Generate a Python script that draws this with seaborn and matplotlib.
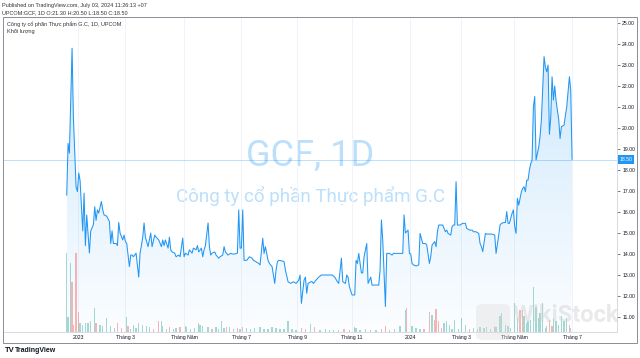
import numpy as np
import pandas as pd
import matplotlib
matplotlib.use("Agg")
import matplotlib.pyplot as plt
import matplotlib.transforms as mtransforms
from matplotlib.patches import Rectangle, FancyBboxPatch
import seaborn as sns

# ---------------- data (trading-day index, close price) ----------------
day = [0, 1, 2, 4, 5, 7, 8, 9, 10, 12, 13, 14, 15, 17, 18, 20, 21, 22, 23, 24,
       26, 27, 28, 30, 32, 33, 34, 35, 37, 38, 39, 40, 42, 43, 44, 45, 47, 48, 49, 50,
       52, 54, 55, 56, 57, 58, 59, 61, 62, 63, 64, 66, 67, 69, 71, 72, 73, 74, 76, 77,
       78, 79, 81, 82, 84, 85, 87, 88, 89, 91, 92, 94, 95, 97, 98, 99, 101, 102, 103, 104,
       106, 107, 108, 109, 111, 112, 114, 115, 117, 118, 119, 121, 123, 124, 126, 128, 129, 130, 131, 132,
       133, 135, 137, 139, 140, 142, 144, 145, 147, 148, 149, 151, 152, 154, 156, 157, 158, 159, 161, 163,
       164, 166, 168, 170, 172, 174, 175, 176, 178, 179, 180, 181, 183, 184, 185, 187, 189, 191, 194, 196,
       199, 201, 203, 204, 206, 207, 209, 210, 211, 212, 214, 216, 217, 218, 219, 221, 222, 223, 225, 226,
       228, 229, 231, 234, 235, 236, 237, 239, 240, 242, 244, 245, 246, 250, 252, 253, 254, 256, 257, 258,
       259, 260, 262, 264, 265, 267, 269, 270, 272, 273, 274, 276, 277, 278, 279, 281, 282, 284, 285, 286,
       288, 289, 290, 291, 292, 293, 295, 297, 299, 300, 302, 304, 305, 307, 309, 310, 311, 312, 314, 315,
       317, 319, 321, 322, 324, 325, 326, 328, 329, 330, 331, 332, 334, 335, 336, 337, 338, 339, 341, 342,
       343, 344, 345, 346, 347, 348, 349, 350, 351, 352, 354, 355, 356, 358, 359, 360, 361, 362, 363, 364,
       365, 366, 367, 369, 370, 371, 373, 374, 375, 377, 378, 379]
close = [16.8, 19.27, 18.8, 23.8, 20.5, 17.2, 16.97, 17.86, 17.5, 15.1, 16.9, 14.4, 15.86, 14.05, 15.1, 15.4, 16.25, 15.6, 16.1, 15.95,
         16.5, 16.1, 15.86, 15.8, 15.55, 14.5, 15.1, 14.5, 14.5, 14.4, 15.5, 15.0, 14.67, 14.9, 14.6, 14.5, 13.4, 13.95, 13.95, 13.87,
         14.04, 12.9, 14.04, 14.4, 14.8, 15.48, 14.8, 14.35, 14.67, 15.0, 14.35, 14.9, 14.8, 14.67, 14.35, 14.67, 14.4, 14.67, 14.28, 14.8,
         14.2, 14.1, 14.04, 13.87, 13.95, 13.87, 14.76, 13.87, 14.04, 13.95, 14.2, 14.04, 14.28, 14.2, 14.4, 14.1, 14.28, 13.87, 14.2, 14.4,
         15.48, 14.35, 13.95, 14.04, 14.1, 13.95, 13.8, 13.87, 13.95, 14.35, 14.1, 13.95, 14.04, 14.0, 14.0, 14.04, 16.1, 14.28, 14.28, 16.1,
         13.7, 13.7, 13.87, 13.8, 13.7, 13.63, 13.55, 13.48, 14.75, 14.03, 14.35, 13.7, 13.55, 13.4, 12.6, 13.24, 13.63, 13.7, 13.68, 13.63,
         13.24, 12.68, 12.6, 12.68, 12.6, 12.76, 13.0, 11.65, 12.76, 12.9, 12.13, 12.6, 12.68, 12.68, 12.6, 12.76, 12.9, 13.0, 13.0, 13.0,
         13.0, 12.9, 12.68, 12.6, 13.8, 12.68, 12.6, 13.0, 12.9, 12.44, 12.05, 12.05, 13.7, 13.55, 14.03, 13.1, 13.1, 13.87, 14.5, 12.6,
         12.9, 12.52, 12.52, 12.52, 13.24, 15.62, 14.67, 11.5, 14.03, 14.03, 13.95, 14.03, 14.03, 14.03, 14.03, 15.86, 15.0, 15.14, 14.03, 14.0,
         13.55, 13.48, 13.43, 13.48, 14.98, 14.5, 14.5, 14.43, 13.55, 13.87, 14.43, 14.59, 14.35, 15.06, 15.38, 15.38, 15.38, 15.06, 15.14, 14.98,
         14.9, 15.3, 15.38, 15.38, 17.44, 15.38, 15.38, 15.46, 15.46, 15.22, 15.14, 15.14, 15.06, 15.06, 14.98, 14.5, 14.35, 14.11, 14.98, 14.95,
         14.95, 14.95, 14.9, 14.03, 14.9, 15.38, 15.46, 15.5, 15.5, 16.02, 15.46, 15.46, 15.94, 16.1, 15.3, 14.98, 16.65, 16.33, 16.97, 17.13,
         17.2, 16.97, 17.52, 17.52, 18.0, 18.3, 18.48, 21.0, 21.5, 18.48, 19.1, 19.6, 20.4, 23.4, 22.9, 22.68, 23.0, 19.7, 20.5, 22.44,
         21.33, 22.0, 21.3, 20.4, 19.5, 20.06, 20.14, 20.6, 21.0, 22.44, 21.8, 18.5]

# volume (thousand shares) and bar direction (u = up / teal, d = down / red)
vol_day = [0, 1, 3, 4, 5, 7, 9, 10, 12, 14, 16, 18, 21, 22, 25, 27, 30, 33, 36, 38,
           41, 45, 46, 48, 50, 52, 54, 57, 60, 62, 65, 69, 71, 72, 75, 77, 80, 82, 85, 89,
           90, 93, 96, 99, 100, 102, 106, 109, 112, 114, 116, 118, 120, 122, 125, 128, 130, 132, 135, 138,
           141, 145, 148, 151, 154, 157, 160, 163, 166, 169, 172, 176, 179, 183, 186, 190, 194, 197, 200, 204,
           208, 212, 216, 217, 220, 224, 228, 232, 236, 239, 242, 246, 250, 254, 255, 259, 262, 265, 268, 272,
           274, 276, 277, 279, 281, 283, 285, 287, 289, 291, 294, 296, 299, 302, 305, 308, 310, 313, 315, 318,
           321, 322, 325, 326, 329, 331, 333, 336, 338, 340, 342, 343, 345, 346, 348, 350, 352, 354, 355, 357,
           359, 360, 362, 364, 365, 367, 369, 371, 373, 375, 377, 378]
vol_k = [790, 150, 690, 500, 70, 790, 200, 90, 70, 90, 90, 110, 240, 90, 70, 60, 140, 60, 40, 90,
         40, 150, 60, 30, 70, 40, 90, 70, 60, 50, 30, 110, 110, 60, 30, 50, 30, 40, 50, 60,
         50, 30, 40, 90, 70, 60, 50, 30, 50, 30, 110, 40, 50, 50, 30, 40, 30, 50, 40, 30,
         40, 50, 30, 30, 50, 40, 30, 30, 110, 30, 20, 40, 30, 80, 50, 20, 30, 20, 25, 20,
         30, 20, 50, 40, 20, 30, 20, 20, 30, 60, 20, 30, 60, 220, 240, 60, 40, 30, 30, 200,
         170, 120, 230, 110, 40, 90, 110, 70, 30, 120, 30, 140, 70, 30, 40, 30, 50, 40, 50, 30,
         60, 50, 160, 190, 70, 60, 40, 290, 140, 220, 220, 160, 90, 110, 120, 450, 250, 140, 190, 290,
         40, 60, 120, 60, 140, 110, 70, 160, 110, 140, 70, 40]
vol_dir = ("uuudddduuuuuudu" "uuuudduduuuuuuudduuuduu" "duuuuuuuudu" "uuudu" "dduduuuuu"
           "uuuuuuuuddud" "uuu" "uudduuuuuuddu" "uuud" "uuuddu" "ddd" "duuuuuuuuduuu"
           "uuudu" "uuuu" "uuudduuuuuuuuu" "uuddu" "uuuuu" "d")

price_ticks = [11, 12, 13, 14, 15, 16, 17, 18, 19, 20, 21, 22, 23, 24, 25]
month_pos = [8.5, 43.7, 88, 130.7, 172.7, 214, 257.5, 295.7, 335.5, 379]
month_lab = ["2023", "Tháng 3", "Tháng Năm", "Tháng 7", "Tháng 9", "Tháng 11",
             "2024", "Tháng 3", "Tháng Năm", "Tháng 7"]
last_close = 18.50

# ---------------- style ----------------
sns.set_theme(style="white")
plt.rcParams["font.family"] = ["Liberation Sans", "DejaVu Sans"]

W, H = 640, 358
fig = plt.figure(figsize=(W / 100, H / 100), dpi=100)
fig.patch.set_facecolor("white")
ax = fig.add_axes([3 / W, 26 / H, 614 / W, 315 / H])
ax2 = ax.twinx()

BLUE = "#2196f3"
XMIN, XMAX = -47.8, 412.7
YMIN, YMAX = 10.286, 25.286

df = pd.DataFrame({"day": day, "close": close})

# gradient area under the line
poly = ax.fill_between(df["day"], df["close"], YMIN, color="none", lw=0)
n = 256
alpha = np.linspace(0.22, 0.015, n)
rgba = np.zeros((n, 1, 4))
rgba[:, 0, 0] = 33 / 255
rgba[:, 0, 1] = 150 / 255
rgba[:, 0, 2] = 243 / 255
rgba[:, 0, 3] = alpha
im = ax.imshow(rgba, extent=[min(day), max(day), YMIN, max(close)], aspect="auto",
               origin="upper", zorder=1, interpolation="bilinear")
im.set_clip_path(poly.get_paths()[0], transform=ax.transData)

sns.lineplot(data=df, x="day", y="close", ax=ax, color=BLUE, linewidth=0.75, zorder=3)

ax.axhline(last_close, color=BLUE, alpha=0.3, lw=0.7, zorder=2)

ax.set_xlim(XMIN, XMAX)
ax.set_ylim(YMIN, YMAX)
ax.set_xticks(month_pos)
ax.set_xticklabels(month_lab)
ax.set_yticks(price_ticks)
ax.set_yticklabels([f"{p:.2f}" for p in price_ticks])
ax.yaxis.tick_right()
ax.tick_params(axis="x", labelsize=3.7, length=0, pad=2.2, colors="#131722")
ax.tick_params(axis="y", labelsize=3.7, length=2, width=0.4, pad=1.8, colors="#131722",
               right=True, left=False)
ax.grid(axis="x", color="#f0f3fa", lw=0.7)
ax.grid(axis="y", visible=False)
ax.set_xlabel("")
ax.set_ylabel("")
for s in ["left", "top"]:
    ax.spines[s].set_visible(False)
for s in ["bottom", "right"]:
    ax.spines[s].set_color("#d1d4dc")
    ax.spines[s].set_linewidth(0.6)

# volume
cols = ["#26a69a" if c == "u" else "#ef5350" for c in vol_dir[:len(vol_day)]]
ax2.bar(vol_day, vol_k, width=0.9, color=cols, alpha=0.42, lw=0)
ax2.set_ylim(0, 3150)
ax2.set_yticks([])
ax2.grid(False)
for s in ax2.spines.values():
    s.set_visible(False)

# last price label
trans = mtransforms.blended_transform_factory(ax.transAxes, ax.transData)
ax.text(1.004, last_close, f"{last_close:.2f}", transform=trans, ha="left", va="center",
        fontsize=3.7, color="white", zorder=6, clip_on=False,
        bbox=dict(boxstyle="square,pad=0.3", fc=BLUE, ec="none"))

# watermark
ax.text(0.5, 0.559, "GCF, 1D", transform=ax.transAxes, ha="center", va="center",
        fontsize=26, color=BLUE, alpha=0.3, family="Roboto", zorder=0)
ax.text(0.5, 0.432, "Công ty cổ phần Thực phẩm G.C", transform=ax.transAxes, ha="center",
        va="center", fontsize=13.5, color=BLUE, alpha=0.3, family="Roboto", zorder=0)

# header texts
fig.text(2 / W, 1 - 6 / H, "Published on TradingView.com, July 03, 2024 11:26:13 +07",
         fontsize=4, color="#333333", va="center")
fig.text(2 / W, 1 - 12.5 / H, "UPCOM:GCF, 1D O:21.30 H:20.50 L:18.50 C:18.50",
         fontsize=4, color="#333333", va="center")
fig.text(7 / W, 1 - 24.5 / H, "Công ty cổ phần Thực phẩm G.C, 1D, UPCOM",
         fontsize=4, color="#333333", va="center")
fig.text(7 / W, 1 - 31.5 / H, "Khối lượng", fontsize=4, color="#333333", va="center")

# frame
fig.add_artist(Rectangle((3 / W, 15 / H), 634 / W, 326 / H, transform=fig.transFigure,
                         fill=False, ec="#8a8d96", lw=0.7))

# TradingView logo text
fig.text(5 / W, 1 - 351 / H, "TV", fontsize=5.5, weight="heavy", color="#131722", va="center")
fig.text(15 / W, 1 - 351 / H, "TradingView", fontsize=5, weight="bold", color="#131722",
         va="center")

# WikiStock watermark
fig.add_artist(FancyBboxPatch((476 / W, 18 / H), 34 / W, 36 / H,
                              boxstyle="round,pad=0,rounding_size=0.012",
                              transform=fig.transFigure, fc="#d9d9d9", ec="none", alpha=0.35))
fig.text(566 / W, 1 - 316 / H, "WikiStock", fontsize=17, weight="bold", color="#d0d0d0",
         alpha=0.45, ha="center", va="center", family="Roboto")

fig.savefig("out.png", dpi=100)
